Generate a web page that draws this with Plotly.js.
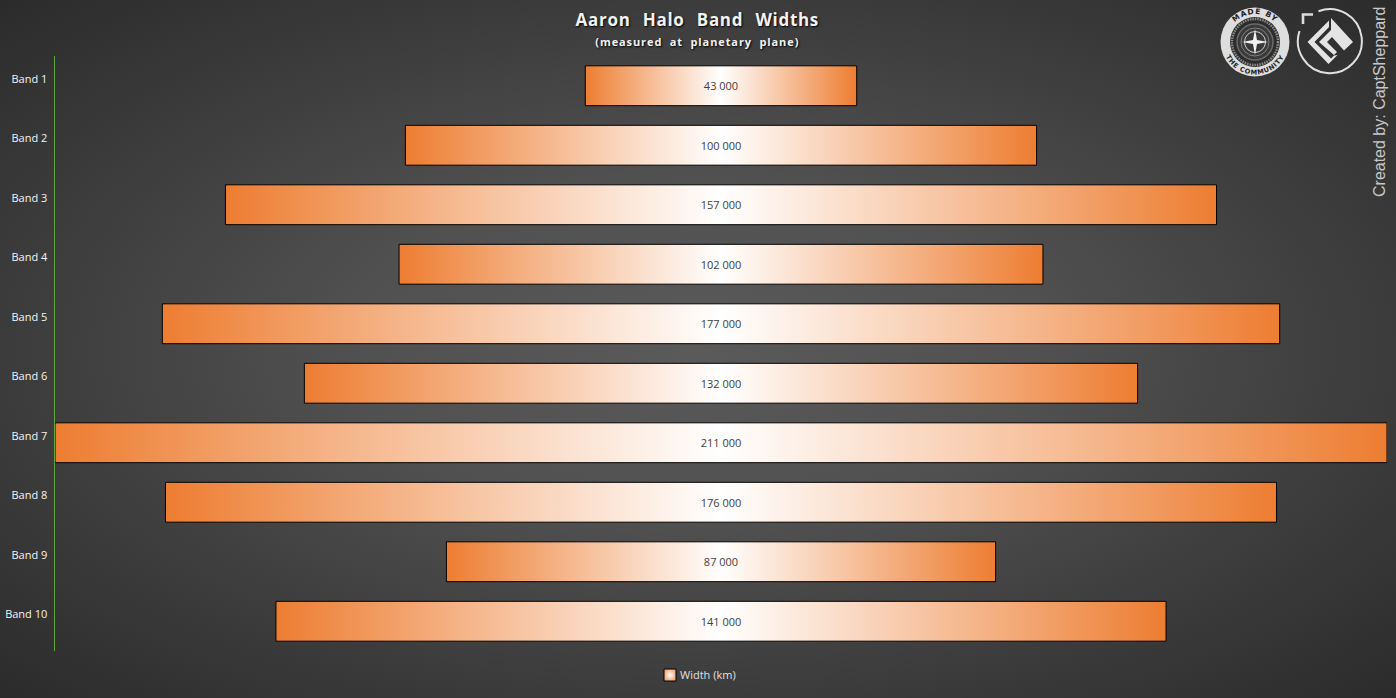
<!DOCTYPE html>
<html>
<head>
<meta charset="utf-8">
<script src="https://cdn.plot.ly/plotly-3.0.1.min.js"></script>
<style>
html,body{margin:0;padding:0;width:1396px;height:698px;overflow:hidden;background:#2a2a2a;}
#chart{width:1396px;height:698px;background:radial-gradient(ellipse 72% 72% at 50% 50%,#5a5a5a 0%,#505050 35%,#3c3c3c 68%,#2a2a2a 100%);}
</style>
</head>
<body>
<div id="chart"></div>
<script>
const bands = ["Band 1","Band 2","Band 3","Band 4","Band 5","Band 6","Band 7","Band 8","Band 9","Band 10"];
const widths = [43000,100000,157000,102000,177000,132000,211000,176000,87000,141000];
const seriesName = "Width (km)";
const chartTitle = "Aaron  Halo  Band  Widths";
const chartSubtitle = "(measured  at  planetary  plane)";
const credit = "Created by: CaptSheppard";

const W = 1396, H = 698, L = 55, R = 9, T = 56, B = 47;
const pw = W - L - R, ph = H - T - B;

const logoMade = `<svg xmlns="http://www.w3.org/2000/svg" xmlns:xlink="http://www.w3.org/1999/xlink" viewBox="0 0 70 70">
<defs><path id="a" d="M7,35 A28,28 0 0 1 63,35"/><path id="b" d="M2.5,35 A32.5,32.5 0 0 0 67.5,35"/></defs>
<circle cx="35" cy="35" r="34.5" fill="#dedede"/>
<circle cx="35" cy="35" r="25" fill="#2c2c2c"/>
<circle cx="35" cy="35" r="23" fill="none" stroke="#8a8a8a" stroke-width="2.5" stroke-dasharray="1.5 1"/>
<circle cx="35" cy="35" r="18" fill="#3a3a3a" stroke="#6a6a6a" stroke-width="1.5"/>
<circle cx="35" cy="35" r="14" fill="none" stroke="#808080" stroke-width="1"/>
<circle cx="35" cy="35" r="10.5" fill="none" stroke="#cfcfcf" stroke-width="1"/>
<path d="M35,22 L37,33 L48,35 L37,37 L35,48 L33,37 L22,35 L33,33Z" fill="#f2f2f2"/>
<text font-family="DejaVu Sans" font-weight="bold" font-size="7.5" fill="#222" text-anchor="middle" letter-spacing="1"><textPath xlink:href="#a" startOffset="50%">MADE BY</textPath></text>
<text font-family="DejaVu Sans" font-weight="bold" font-size="6.6" fill="#222" text-anchor="middle" letter-spacing=".7"><textPath xlink:href="#b" startOffset="50%">THE COMMUNITY</textPath></text>
</svg>`;

const logoChevron = `<svg xmlns="http://www.w3.org/2000/svg" viewBox="0 0 70 70">
<path d="M23.5,5.2 A32,32 0 1 1 4.5,25" fill="none" stroke="#e0e0e0" stroke-width="2"/>
<path d="M8,18 V8.5 H18" fill="none" stroke="#dcdcdc" stroke-width="2.6"/>
<path d="M12.5,36 L34,14.5 L34,21 L19.5,36 L36,52.5 L39,49.5 L42.5,49 L33.5,58Z" fill="#e4e4e4"/>
<path d="M24,36 L36,24 L36,12 L58,36 L49,44.5 L37,31 L32,36 L42,46 L39,49Z" fill="#e4e4e4"/>
</svg>`;
const toUri = s => "data:image/svg+xml;charset=utf-8," + encodeURIComponent(s);
const imgAt = (src, x, y, size) => ({
  source: toUri(src), xref: "paper", yref: "paper",
  x: (x - L) / pw, y: (H - B - y) / ph,
  sizex: size / pw, sizey: size / ph,
  xanchor: "left", yanchor: "top", layer: "above"
});

const font = "'Open Sans', 'Noto Sans', sans-serif";

const trace = {
  type: "bar", orientation: "h",
  name: seriesName, showlegend: true,
  y: bands, x: widths, base: widths.map(v => -v / 2),
  marker: {color: "#ED7D31", line: {color: "#000", width: 1}},
  text: widths, texttemplate: "%{text:,d}",
  textposition: "inside", insidetextanchor: "middle", textangle: 0,
  textfont: {family: font, size: 11, color: "#404040"},
  hoverinfo: "skip"
};

const layout = {
  width: W, height: H,
  paper_bgcolor: "rgba(0,0,0,0)", plot_bgcolor: "rgba(0,0,0,0)",
  margin: {l: L, r: R, t: T, b: B, pad: 0},
  separators: ". ",
  bargap: 0.33,
  title: {
    text: "<b>" + chartTitle + "</b>",
    xref: "container", x: 0.4995, xanchor: "center",
    yref: "container", y: 0.971, yanchor: "middle",
    font: {family: font, size: 17, color: "#f2f2f2", shadow: "1px 1px 2px #000"},
    subtitle: {text: "<b>" + chartSubtitle + "</b>", font: {family: font, size: 11, color: "#f2f2f2", shadow: "1px 1px 2px #000"}}
  },
  xaxis: {range: [-105500, 105500], visible: false, fixedrange: true},
  yaxis: {
    type: "category", autorange: "reversed", fixedrange: true,
    showline: true, linecolor: "#5EA83A", linewidth: 1.5,
    showgrid: false, zeroline: false, ticks: "",
    tickfont: {family: font, size: 11, color: "#f4f4f4"},
    ticklabelstandoff: 4, ticklabelshift: 7
  },
  showlegend: true,
  legend: {
    orientation: "h", x: (700.5 - L) / pw, xanchor: "center",
    y: (H - B - 675) / ph, yanchor: "middle",
    font: {family: font, size: 11, color: "#e0e0e0"},
    bgcolor: "rgba(0,0,0,0)", itemclick: false, itemdoubleclick: false
  },
  annotations: [{
    text: credit, xref: "paper", yref: "paper",
    x: (1380 - L) / pw, y: (H - B - 102) / ph,
    xanchor: "center", yanchor: "middle", textangle: -90, showarrow: false,
    font: {family: "'Liberation Sans', Arial, sans-serif", size: 16, color: "#c8c8c8"}
  }],
  images: [imgAt(logoMade, 1220, 7, 70), imgAt(logoChevron, 1295, 6, 70)]
};

Plotly.newPlot("chart", [trace], layout, {displayModeBar: false, staticPlot: true}).then(gd => {
  const NS = "http://www.w3.org/2000/svg";
  const svg = gd.querySelector(".main-svg");
  const defs = document.createElementNS(NS, "defs");
  const stops = (arr, g) => arr.forEach(([o, c]) => {
    const s = document.createElementNS(NS, "stop");
    s.setAttribute("offset", o); s.setAttribute("stop-color", c); g.appendChild(s);
  });
  const lg = document.createElementNS(NS, "linearGradient");
  lg.id = "barGrad";
  lg.setAttribute("x1", "0"); lg.setAttribute("x2", "1"); lg.setAttribute("y1", "0"); lg.setAttribute("y2", "0");
  stops([[0, "#ED7D31"], [0.5, "#FFFFFF"], [1, "#ED7D31"]], lg);
  const rg = document.createElementNS(NS, "radialGradient");
  rg.id = "legGrad";
  stops([[0, "#FFFFFF"], [1, "#F2A878"]], rg);
  defs.appendChild(lg); defs.appendChild(rg);
  svg.insertBefore(defs, svg.firstChild);
  gd.querySelectorAll(".bars .point path").forEach(p => { p.style.fill = "url(#barGrad)"; });
  gd.querySelectorAll(".legend .legendpoints path").forEach(p => { p.style.fill = "url(#legGrad)"; });
  gd.querySelectorAll(".legend .legendtext").forEach(t => { t.setAttribute("x", parseFloat(t.getAttribute("x")) - 10); });
  gd.querySelectorAll(".gtitle").forEach(t => { t.style.letterSpacing = "0.7px"; t.style.wordSpacing = "1px"; });
  gd.querySelectorAll(".gtitle-subtitle").forEach(t => { t.style.letterSpacing = "0.9px"; t.setAttribute("transform", "translate(0,-7)"); });
});
</script>
</body>
</html>
